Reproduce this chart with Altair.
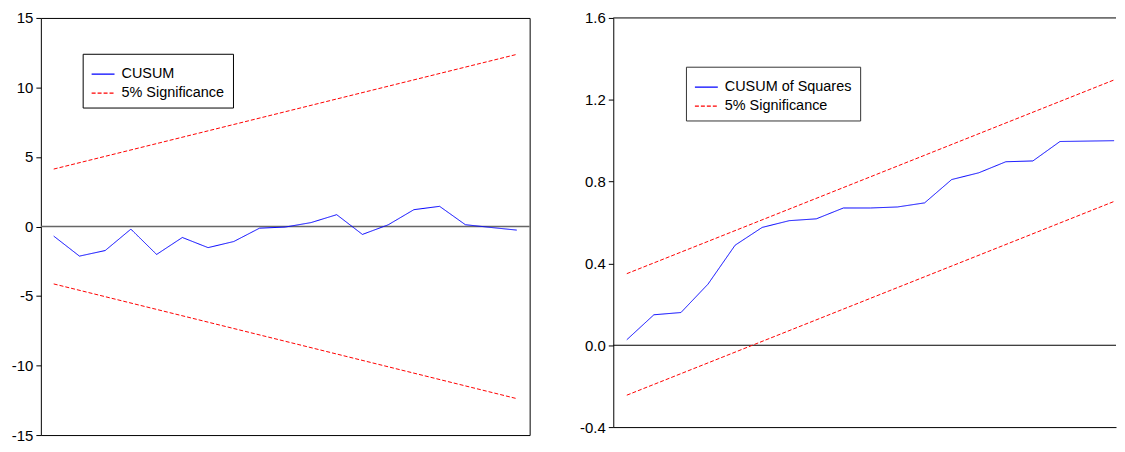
import altair as alt
import pandas as pd

# ---- data ----
obs = list(range(1, 20))
cusum = [-0.69, -2.13, -1.73, -0.19, -2.01, -0.79, -1.52, -1.08, -0.12, -0.04,
         0.28, 0.85, -0.57, 0.12, 1.21, 1.45, 0.13, -0.07, -0.26]
cusum_sq = [0.027, 0.149, 0.160, 0.299, 0.489, 0.576, 0.609, 0.618, 0.671, 0.671,
            0.676, 0.696, 0.810, 0.843, 0.897, 0.901, 0.996, 0.998, 1.000]
bound_obs = [1, 19]
cusum_upper = [4.13, 12.38]
cusum_lower = [-4.13, -12.38]
sq_upper = [0.350, 1.297]
sq_lower = [-0.244, 0.703]

left_ticks = [-15, -10, -5, 0, 5, 10, 15]
right_ticks = [-0.4, 0.0, 0.4, 0.8, 1.2, 1.6]
SIG = "5% Significance"

FONT = "Liberation Sans, Arial, sans-serif"
MINUS_FIX = "replace(datum.label, '\u2212', '-')"


def panel(values, up, lo, name, ydom, yticks, fmt, xdom, w, h, lx, ly,
          zero_color, zero_width, framed, legend_stroke):
    rows = [dict(obs=o, val=v, series=name, grp="main") for o, v in zip(obs, values)]
    rows += [dict(obs=o, val=v, series=SIG, grp="upper") for o, v in zip(bound_obs, up)]
    rows += [dict(obs=o, val=v, series=SIG, grp="lower") for o, v in zip(bound_obs, lo)]
    df = pd.DataFrame(rows)

    yscale = alt.Scale(domain=ydom, nice=False, zero=False)
    yaxis = alt.Axis(values=yticks, format=fmt, labelExpr=MINUS_FIX, title=None,
                     domain=not framed, domainColor="black", domainWidth=1, grid=False,
                     ticks=True, tickSize=5, tickColor="black", labelFont=FONT,
                     labelFontSize=15, labelColor="black", labelPadding=3)
    xscale = alt.Scale(domain=xdom, nice=False, zero=False)
    if framed:
        xaxis = None
    else:
        xaxis = alt.Axis(labels=False, ticks=False, domain=True, domainColor="black",
                         domainWidth=1, grid=False, title=None)

    leg = alt.Legend(
        orient="none", legendX=lx, legendY=ly, title=None,
        labelFont=FONT, labelFontSize=14.5, labelColor="black",
        symbolType="stroke", symbolSize=529, symbolStrokeWidth=1.2,
        rowPadding=0, labelOffset=6, padding=8,
        strokeColor=legend_stroke, fillColor="white", cornerRadius=0,
    )
    cdom = [name, SIG]

    zero = alt.Chart(pd.DataFrame({"z": [0]})).mark_rule(
        color=zero_color, strokeWidth=zero_width
    ).encode(y=alt.Y("z:Q", scale=yscale, axis=yaxis))

    lines = alt.Chart(df).mark_line(strokeWidth=1).encode(
        x=alt.X("obs:Q", scale=xscale, axis=xaxis),
        y=alt.Y("val:Q", scale=yscale, axis=yaxis),
        color=alt.Color("series:N", scale=alt.Scale(domain=cdom,
                        range=["#0000ff", "#ff0000"]), legend=leg),
        strokeDash=alt.StrokeDash("series:N", scale=alt.Scale(domain=cdom,
                                  range=[[1, 0], [4, 2]]), legend=leg),
        detail="grp:N",
    )
    layers = [zero, lines]
    if not framed:
        top = alt.Chart(pd.DataFrame({"t": [ydom[1]]})).mark_rule(
            color="black", strokeWidth=1
        ).encode(y=alt.Y("t:Q", scale=yscale, axis=yaxis))
        layers.append(top)
        view = alt.ViewBackground(stroke="transparent")
    else:
        view = alt.ViewBackground(stroke="black", strokeWidth=1)
    return alt.layer(*layers).properties(width=w, height=h, view=view)


left = panel(cusum, cusum_upper, cusum_lower, "CUSUM", [-15, 15], left_ticks, "d",
             [0.5, 19.5], 491, 419, 42, 36, "#666666", 1.5, True, "black")
right = panel(cusum_sq, sq_upper, sq_lower, "CUSUM of Squares", [-0.4, 1.6], right_ticks,
              ".1f", [0.5, 19.07], 505, 411, 73, 49, "black", 1, False, "#333333")

chart = alt.hconcat(left, right, spacing=47).resolve_scale(
    x="independent", y="independent", color="independent", strokeDash="independent"
).resolve_legend(color="independent", strokeDash="independent").properties(
    padding={"left": 2, "top": 1, "right": 0, "bottom": 0},
    background="white",
)

chart.save("out.html", embed_options={"renderer": "svg", "actions": False})
